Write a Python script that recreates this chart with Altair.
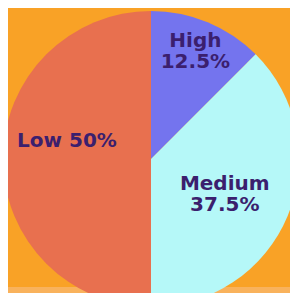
import altair as alt
import pandas as pd

categories = ["High", "Medium", "Low"]
shares = [12.5, 37.5, 50.0]
label_lines = [["High", "12.5%"], ["Medium", "37.5%"], ["Low 50%"]]
slice_colors = ["#7474EE", "#B5F8F8", "#E8704F"]

df = pd.DataFrame({
    "cat": categories,
    "share": shares,
    "idx": list(range(len(categories))),
    "label": label_lines,
})

W, H = 282, 285
CX, CY = 143, 151
R = 148
TEXT_COLOR = "#3B1F6E"

base = alt.Chart(df)

band = base.mark_rect(color="#F9B25C").encode(
    x=alt.value(0), x2=alt.value(W), y=alt.value(279), y2=alt.value(H + 20)
).transform_filter(alt.datum.idx == 0)

theta_scale = alt.Scale(domain=[0, 100])

pie = base.mark_arc(outerRadius=R).encode(
    theta=alt.Theta("share:Q", stack=True, scale=theta_scale),
    color=alt.Color("cat:N", scale=alt.Scale(domain=categories, range=slice_colors), legend=None),
    order=alt.Order("idx:Q"),
    x=alt.value(CX),
    y=alt.value(CY),
)


def label_layer(name, radius, dx, dy):
    return base.transform_window(
        cum="sum(share)", sort=[alt.SortField("idx")]
    ).transform_calculate(
        mid="datum.cum - datum.share / 2"
    ).transform_filter(
        alt.datum.cat == name
    ).mark_text(
        radius=radius, dx=dx, dy=dy, font="DejaVu Sans", fontWeight="bold",
        fontSize=20, lineHeight=21, color=TEXT_COLOR, align="center", baseline="middle",
    ).encode(
        theta=alt.Theta("mid:Q", scale=theta_scale),
        text="label",
        x=alt.value(CX),
        y=alt.value(CY),
    )


chart = alt.layer(
    band,
    pie,
    label_layer("High", 116, 0, -11),
    label_layer("Medium", 82, -2, -6),
    label_layer("Low", 84, 0, -18),
).properties(
    width=W, height=H, background="#F9A226", padding=0,
    autosize=alt.AutoSizeParams(type="none"),
).configure_view(stroke=None)

chart.save("out.html", embed_options={"renderer": "svg", "actions": False})
